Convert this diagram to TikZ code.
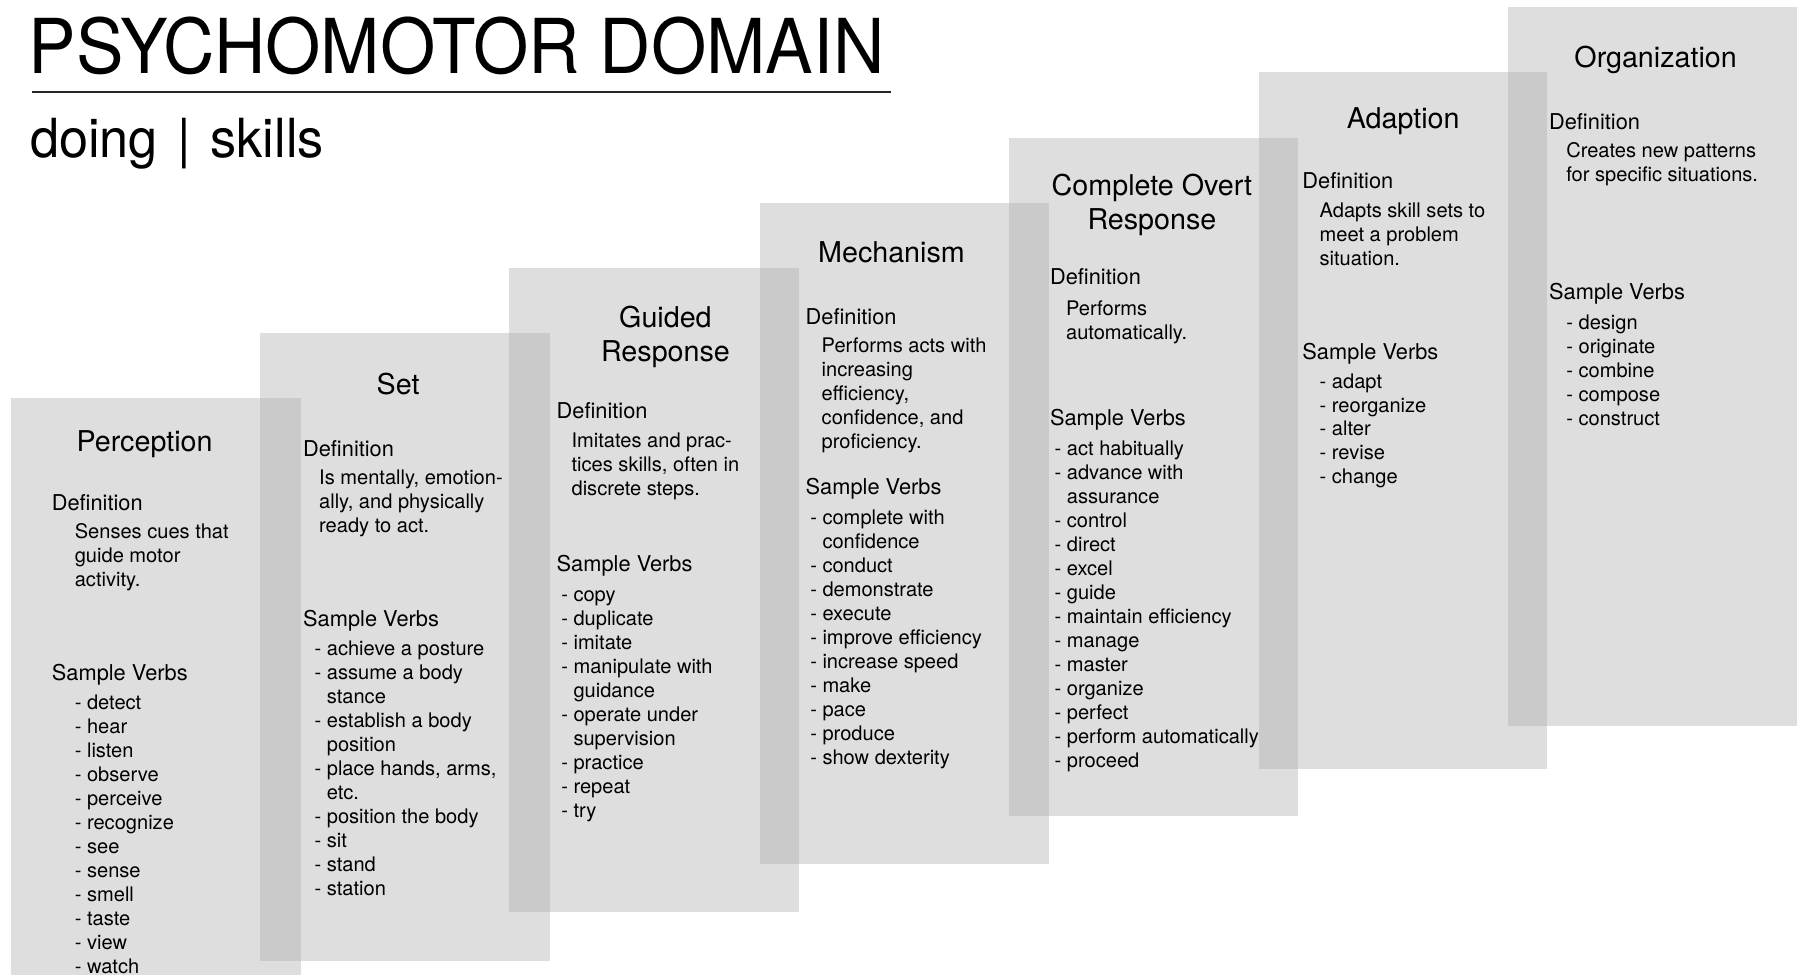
\documentclass[tikz,border=0pt]{standalone}
\usepackage{fontspec}
\setmainfont{TeX Gyre Heros}
\newfontfamily\titlefont[FakeStretch=0.94]{TeX Gyre Heros}
\newfontfamily\subfont[FakeStretch=0.97]{TeX Gyre Heros}
\newcommand\vi[1]{-\ #1}
\newcommand\vc[1]{\phantom{-\ }#1}
\begin{document}
\begin{tikzpicture}[x=1pt,y=-1pt,
  stage/.style={fill=black!33, fill opacity=0.39, draw=none},
  headtxt/.style={font=\fontsize{25}{30}\selectfont, align=center, inner sep=0pt, anchor=north, yshift=21pt},
  labeltxt/.style={font=\fontsize{19}{23}\selectfont, inner sep=0pt, anchor=base west},
  bodytxt/.style={font=\fontsize{17.5}{20.9}\selectfont, align=left, inner sep=0pt, anchor=north west, yshift=14.63pt},
]
\useasboundingbox (0,0) rectangle (1568,849);
\clip (0,0) rectangle (1568,849);
% stage panels
\path[stage] (10,347) rectangle (262,870);
\path[stage] (227,290) rectangle (479,838);
\path[stage] (444,234) rectangle (696,795);
\path[stage] (662,177) rectangle (914,753);
\path[stage] (879,120) rectangle (1131,711);
\path[stage] (1097,63) rectangle (1348,670);
\path[stage] (1314,6) rectangle (1566,633);
% title
\node[font=\titlefont\fontsize{66}{70}\selectfont, anchor=base west, inner sep=0pt] (title) at (25,64) {PSYCHOMOTOR DOMAIN};
\draw[line width=1.3pt, black!85] (28,80) -- (777,80);
\node[font=\subfont\fontsize{47}{50}\selectfont, anchor=base west, inner sep=0pt] (sub) at (26,137) {doing\hspace{17pt}|\hspace{17pt}skills};
% 1 Perception
\node[headtxt] (p1h) at (126,393) {\strut Perception};
\node[labeltxt] (p1dl) at (45,445) {Definition};
\node[bodytxt] (p1d) at (65,469) {\strut Senses cues that\\guide motor\\activity.};
\node[labeltxt] (p1sl) at (45,593) {Sample Verbs};
\node[bodytxt] (p1v) at (65,618) {\strut\vi{detect}\\\vi{hear}\\\vi{listen}\\\vi{observe}\\\vi{perceive}\\\vi{recognize}\\\vi{see}\\\vi{sense}\\\vi{smell}\\\vi{taste}\\\vi{view}\\\vi{watch}};
% 2 Set
\node[headtxt] (p2h) at (347,344) {\strut Set};
\node[labeltxt] (p2dl) at (264,398) {Definition};
\node[bodytxt] (p2d) at (278,422) {\strut Is mentally, emotion-\\ally, and physically\\ready to act.};
\node[labeltxt] (p2sl) at (264,546) {Sample Verbs};
\node[bodytxt] (p2v) at (274,571) {\strut\vi{achieve a posture}\\\vi{assume a body}\\\vc{stance}\\\vi{establish a body}\\\vc{position}\\\vi{place hands, arms,}\\\vc{etc.}\\\vi{position the body}\\\vi{sit}\\\vi{stand}\\\vi{station}};
% 3 Guided Response
\node[headtxt] (p3h) at (580,285) {\strut Guided\\Response};
\node[labeltxt] (p3dl) at (485,365) {Definition};
\node[bodytxt] (p3d) at (498,390) {\strut Imitates and prac-\\tices skills, often in\\discrete steps.};
\node[labeltxt] (p3sl) at (485,498) {Sample Verbs};
\node[bodytxt] (p3v) at (489,524) {\strut\vi{copy}\\\vi{duplicate}\\\vi{imitate}\\\vi{manipulate with}\\\vc{guidance}\\\vi{operate under}\\\vc{supervision}\\\vi{practice}\\\vi{repeat}\\\vi{try}};
% 4 Mechanism
\node[headtxt] (p4h) at (777,229) {\strut Mechanism};
\node[labeltxt] (p4dl) at (702,283) {Definition};
\node[bodytxt] (p4d) at (716,307) {\strut Performs acts with\\increasing\\efficiency,\\confidence, and\\proficiency.};
\node[labeltxt] (p4sl) at (702,431) {Sample Verbs};
\node[bodytxt] (p4v) at (706,457) {\strut\vi{complete with}\\\vc{confidence}\\\vi{conduct}\\\vi{demonstrate}\\\vi{execute}\\\vi{improve efficiency}\\\vi{increase speed}\\\vi{make}\\\vi{pace}\\\vi{produce}\\\vi{show dexterity}};
% 5 Complete Overt Response
\node[headtxt] (p5h) at (1004,170) {\strut Complete Overt\\Response};
\node[labeltxt] (p5dl) at (915,248) {Definition};
\node[bodytxt] (p5d) at (929,275) {\strut Performs\\automatically.};
\node[labeltxt] (p5sl) at (915,371) {Sample Verbs};
\node[bodytxt] (p5v) at (919,397) {\strut\vi{act habitually}\\\vi{advance with}\\\vc{assurance}\\\vi{control}\\\vi{direct}\\\vi{excel}\\\vi{guide}\\\vi{maintain efficiency}\\\vi{manage}\\\vi{master}\\\vi{organize}\\\vi{perfect}\\\vi{perform automatically}\\\vi{proceed}};
% 6 Adaption
\node[headtxt] (p6h) at (1223,112) {\strut Adaption};
\node[labeltxt] (p6dl) at (1135,164) {Definition};
\node[bodytxt] (p6d) at (1150,189) {\strut Adapts skill sets to\\meet a problem\\situation.};
\node[labeltxt] (p6sl) at (1135,313) {Sample Verbs};
\node[bodytxt] (p6v) at (1150,338) {\strut\vi{adapt}\\\vi{reorganize}\\\vi{alter}\\\vi{revise}\\\vi{change}};
% 7 Organization
\node[headtxt] (p7h) at (1443,59) {\strut Organization};
\node[labeltxt] (p7dl) at (1350,113) {Definition};
\node[bodytxt] (p7d) at (1365,137) {\strut Creates new patterns\\for specific situations.};
\node[labeltxt] (p7sl) at (1350,261) {Sample Verbs};
\node[bodytxt] (p7v) at (1365,287) {\strut\vi{design}\\\vi{originate}\\\vi{combine}\\\vi{compose}\\\vi{construct}};
\end{tikzpicture}
\end{document}
